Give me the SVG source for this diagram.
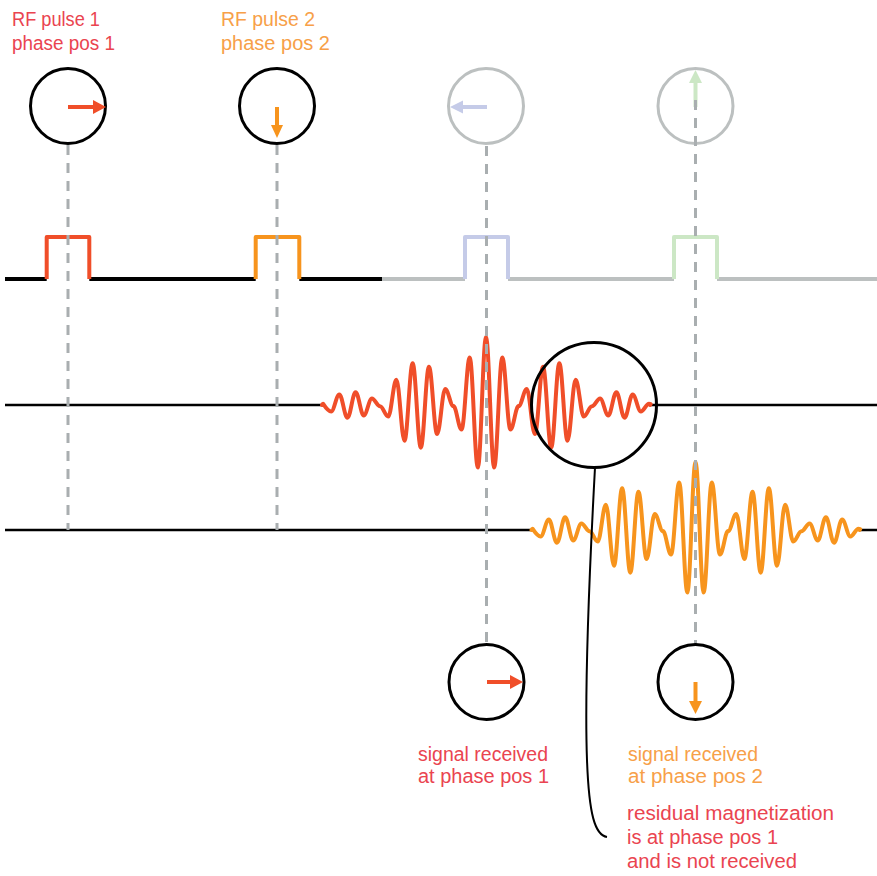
<svg xmlns="http://www.w3.org/2000/svg" xmlns:xlink="http://www.w3.org/1999/xlink" width="877" height="876" viewBox="0 0 877 876">
<style>
.lbl{font-family:"Liberation Sans","DejaVu Sans",sans-serif;font-size:19.5px}
.tr{fill:#ea4450}
.to{fill:#f7a048}
.ring{fill:none;stroke:#000;stroke-width:3}
.gring{fill:none;stroke:#bcc0c0;stroke-width:3}
.dash{fill:none;stroke:#a9aeb0;stroke-width:3;stroke-dasharray:10 8}
.base{fill:none;stroke-width:4;stroke-linecap:butt}
.pulse{fill:none;stroke-width:4;stroke-linejoin:round}
.wave{fill:none;stroke-width:4;stroke-linejoin:round;stroke-linecap:round}
.axis{fill:none;stroke:#000;stroke-width:2.5}
</style>
<defs>
<path id="echo" d="M-164,0 C-163.5,-1.3 -163,-1.3 -163,-1.3 S-157.85,6.5 -154.85,6.5 S-149.7,-10.5 -146.7,-10.5 S-141.55,12.7 -138.55,12.7 S-133.4,-12.7 -130.4,-12.7 S-125.25,10.5 -122.25,10.5 S-117.1,-6.5 -114.1,-6.5 S-108.95,1.3 -105.95,1.3 S-100.8,11.5 -97.8,11.5 S-92.65,-25.2 -89.65,-25.2 S-84.5,35.7 -81.5,35.7 S-76.35,-41.8 -73.35,-41.8 S-68.2,42.7 -65.2,42.7 S-60.05,-38.2 -57.05,-38.2 S-51.9,28.9 -48.9,28.9 S-43.75,-16 -40.75,-16 S-35.6,1.1 -32.6,1.1 S-27.45,24.6 -24.45,24.6 S-19.3,-47.4 -16.3,-47.4 S-11.15,62.6 -8.15,62.6 S-3,-68 0,-68 S5.15,62.6 8.15,62.6 S13.3,-47.4 16.3,-47.4 S21.45,24.6 24.45,24.6 S29.6,1.1 32.6,1.1 S37.75,-16 40.75,-16 S45.9,28.9 48.9,28.9 S54.05,-38.2 57.05,-38.2 S62.2,42.7 65.2,42.7 S70.35,-41.8 73.35,-41.8 S78.5,35.7 81.5,35.7 S86.65,-25.2 89.65,-25.2 S94.8,11.5 97.8,11.5 S102.95,1.3 105.95,1.3 S111.1,-6.5 114.1,-6.5 S119.25,10.5 122.25,10.5 S127.4,-12.7 130.4,-12.7 S135.55,12.7 138.55,12.7 S143.7,-10.5 146.7,-10.5 S151.85,6.5 154.85,6.5 S160,-1.3 163,-1.3 S164,0 164,0"/>
</defs>
<rect width="877" height="876" fill="#fff"/>

<g id="labels-top">
<text class="lbl tr" x="12" y="26" textLength="88" lengthAdjust="spacingAndGlyphs">RF pulse 1</text>
<text class="lbl tr" x="12" y="50" textLength="103" lengthAdjust="spacingAndGlyphs">phase pos 1</text>
<text class="lbl to" x="221" y="26" textLength="94" lengthAdjust="spacingAndGlyphs">RF pulse 2</text>
<text class="lbl to" x="221" y="50" textLength="109" lengthAdjust="spacingAndGlyphs">phase pos 2</text>
</g>

<g id="pulse-train">
<path class="base" stroke="#000" d="M5,279 H46.7 M89.3,279 H255.7 M299.3,279 H382"/>
<path class="base" stroke="#bcc0c0" d="M382,279 H465 M508,279 H674 M717,279 H877"/>
<path id="pulse1" class="pulse" stroke="#f04e29" d="M46.7,279 V237 H89.3 V279"/>
<path id="pulse2" class="pulse" stroke="#f7941d" d="M255.7,279 V237 H299.3 V279"/>
<path id="pulse3" class="pulse" stroke="#c5cbe8" d="M465,279 V237 H508 V279"/>
<path id="pulse4" class="pulse" stroke="#cce7c5" d="M674,279 V237 H717 V279"/>
</g>

<g id="echo1">
<path class="axis" d="M5,405 H323 M650,405 H877"/>
<use xlink:href="#echo" href="#echo" class="wave" stroke="#f04e29" transform="translate(486,405)"/>
</g>
<g id="echo2">
<path class="axis" d="M5,530 H532 M859,530 H877"/>
<use xlink:href="#echo" href="#echo" class="wave" stroke="#f7941d" transform="translate(695.5,530)"/>
</g>

<g id="phase1">
<circle class="ring" cx="68" cy="106" r="37.5"/>
<path d="M68,107 H94" stroke="#f04e29" stroke-width="4"/>
<polygon points="93,100 106,107 93,114" fill="#f04e29"/>
</g>
<g id="phase2">
<circle class="ring" cx="277" cy="106" r="37.5"/>
<path d="M277,107 V126" stroke="#f7941d" stroke-width="4"/>
<polygon points="271,125 277,138 283,125" fill="#f7941d"/>
</g>
<g id="phase3">
<circle class="gring" cx="486" cy="106" r="37.5"/>
<path d="M487,107 H462" stroke="#c5cbe8" stroke-width="4"/>
<polygon points="463,100.5 450,107 463,113.5" fill="#c5cbe8"/>
</g>
<g id="phase4">
<circle class="gring" cx="695.5" cy="106" r="37.5"/>
<path d="M695.5,107 V82" stroke="#cce7c5" stroke-width="4"/>
<polygon points="689,83 695.5,70 702,83" fill="#cce7c5"/>
</g>

<g id="connectors">
<path class="dash" d="M68,145 V530"/>
<path class="dash" d="M277,145 V530"/>
<path class="dash" d="M486.5,146 V644"/>
<path class="dash" d="M695.5,100 V644"/>
</g>

<g id="magnifier">
<circle class="ring" cx="594" cy="405" r="62.5"/>
<path d="M595,467.5 C590,560 584,680 587,760 C589,815 595,835 607,837" fill="none" stroke="#000" stroke-width="2"/>
</g>

<g id="received1">
<circle class="ring" cx="486.5" cy="682" r="37.5"/>
<path d="M487,682 H511" stroke="#f04e29" stroke-width="4"/>
<polygon points="510,675 523,682 510,689" fill="#f04e29"/>
</g>
<g id="received2">
<circle class="ring" cx="695.5" cy="682" r="37.5"/>
<path d="M695.5,682 V703" stroke="#f7941d" stroke-width="4"/>
<polygon points="689,701 695.5,714 702,701" fill="#f7941d"/>
</g>

<g id="labels-bottom">
<text class="lbl tr" x="418" y="761" textLength="130" lengthAdjust="spacingAndGlyphs">signal received</text>
<text class="lbl tr" x="418" y="783" textLength="131" lengthAdjust="spacingAndGlyphs">at phase pos 1</text>
<text class="lbl to" x="628" y="761" textLength="130" lengthAdjust="spacingAndGlyphs">signal received</text>
<text class="lbl to" x="628" y="783" textLength="135" lengthAdjust="spacingAndGlyphs">at phase pos 2</text>
<text class="lbl tr" x="627" y="820" textLength="207" lengthAdjust="spacingAndGlyphs">residual magnetization</text>
<text class="lbl tr" x="627" y="844" textLength="151" lengthAdjust="spacingAndGlyphs">is at phase pos 1</text>
<text class="lbl tr" x="627" y="868" textLength="170" lengthAdjust="spacingAndGlyphs">and is not received</text>
</g>
</svg>
